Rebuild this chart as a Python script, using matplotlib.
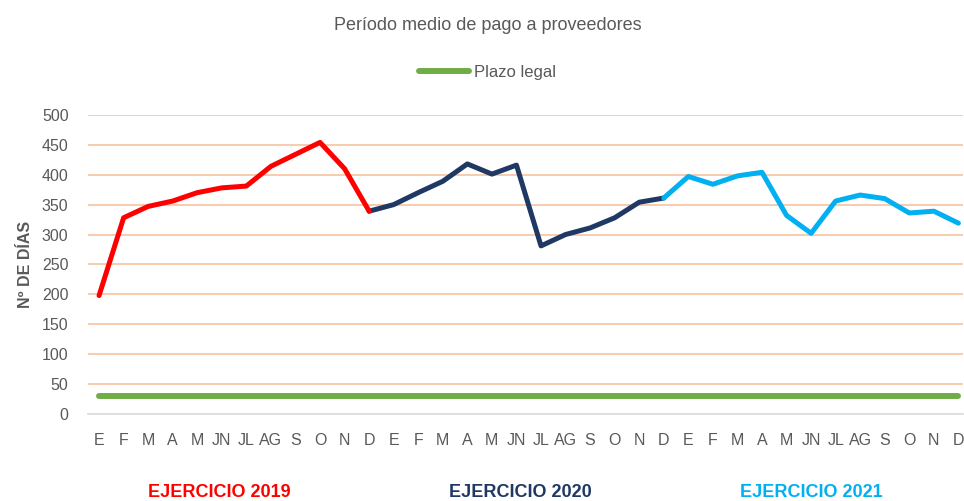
import numpy as np
import matplotlib.pyplot as plt

plt.rcParams['font.family'] = ['Liberation Sans', 'DejaVu Sans']

# Datos
meses = ["E", "F", "M", "A", "M", "JN", "JL", "AG", "S", "O", "N", "D"]
pmp_2019 = [198, 328, 347, 356, 370, 378, 381, 414, 434, 454, 410, 339]
pmp_2020 = [350, 370, 389, 418, 401, 416, 281, 300, 311, 328, 354, 361]
pmp_2021 = [397, 384, 398, 404, 332, 302, 356, 366, 360, 336, 339, 319]
plazo_legal = 30

fig = plt.figure(figsize=(9.64, 5.01), dpi=100)
ax = fig.add_axes([0.0913, 0.1737, 0.908, 0.597])

n = len(meses)
x19 = np.arange(0, n)
x20 = np.arange(n - 1, 2 * n)
x21 = np.arange(2 * n - 1, 3 * n)

# grid
for v in range(50, 501, 50):
    ax.axhline(v, color="#F8CBAD", lw=1.4, zorder=0)

ax.plot(x19, pmp_2019, color="#FF0000", lw=3.6, solid_capstyle="round", solid_joinstyle="round", zorder=3)
ax.plot(x20, [pmp_2019[-1]] + pmp_2020, color="#1F3864", lw=3.6, solid_capstyle="round", solid_joinstyle="round", zorder=2)
ax.plot(x21, [pmp_2020[-1]] + pmp_2021, color="#00B0F0", lw=3.6, solid_capstyle="round", solid_joinstyle="round", zorder=2)
ax.plot([0, 3 * n - 1], [plazo_legal, plazo_legal], color="#70AD47", lw=4.3, solid_capstyle="round", zorder=2, label="Plazo legal")

ax.set_xlim(-0.45, 3 * n - 0.8)
ax.set_ylim(0, 500)
ax.set_yticks(range(0, 501, 50))
ax.set_xticks(range(3 * n))
ax.set_xticklabels(meses * 3)
ax.tick_params(axis="both", length=0, colors="#595959", labelsize=11.5)
ax.tick_params(axis="x", pad=14)
ax.tick_params(axis="y", pad=14)

for s in ["top", "right", "left"]:
    ax.spines[s].set_visible(False)
ax.spines["bottom"].set_color("#D9D9D9")
ax.spines["bottom"].set_linewidth(1.2)

ax.set_ylabel("Nº DE DÍAS", fontsize=11.5, fontweight="bold", color="#595959", labelpad=6)

fig.text(0.506, 0.95, "Período medio de pago a proveedores", ha="center", va="center",
         fontsize=13, color="#595959")
fig.legend(loc="center", bbox_to_anchor=(0.506, 0.856), frameon=False, fontsize=12,
           handlelength=3.0, handletextpad=0.3, labelcolor="#595959")

fig.text(0.228, 0.016, "EJERCICIO 2019", ha="center", va="center", fontsize=13, fontweight="bold", color="#FF0000")
fig.text(0.540, 0.016, "EJERCICIO 2020", ha="center", va="center", fontsize=13, fontweight="bold", color="#1F3864")
fig.text(0.842, 0.016, "EJERCICIO 2021", ha="center", va="center", fontsize=13, fontweight="bold", color="#00B0F0")

fig.savefig("out.png", dpi=100)
